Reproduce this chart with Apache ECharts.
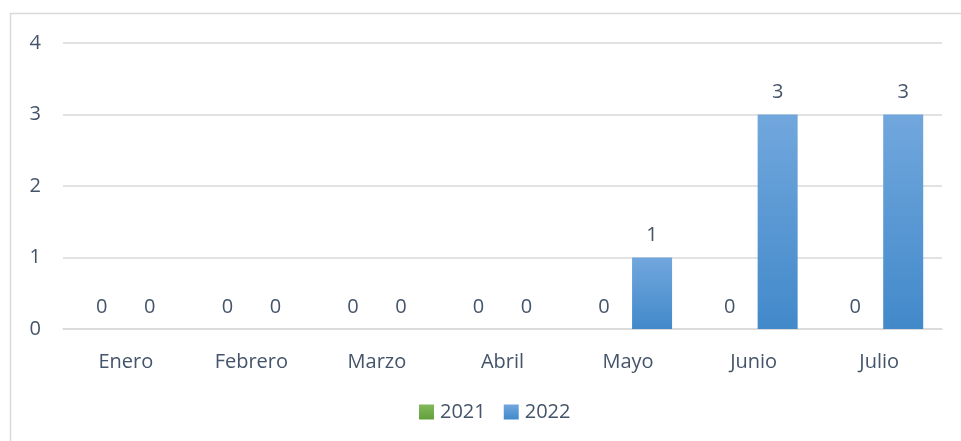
<!DOCTYPE html>
<html>
<head>
<meta charset="utf-8">
<style>
  html, body { margin: 0; padding: 0; background: #fff; }
  #chart { width: 961px; height: 441px; }
</style>
<script src="https://cdn.jsdelivr.net/npm/echarts@6/dist/echarts.min.js"></script>
</head>
<body>
<div id="chart"></div>
<script>
const meses = ["Enero", "Febrero", "Marzo", "Abril", "Mayo", "Junio", "Julio"];
const datos2021 = [0, 0, 0, 0, 0, 0, 0];
const datos2022 = [0, 0, 0, 0, 1, 3, 3];

const textColor = "#44546A";
const font = "'Open Sans', 'Liberation Sans', sans-serif";
const fs = 20;

const grad = (top, bottom) =>
  new echarts.graphic.LinearGradient(0, 0, 0, 1, [
    { offset: 0, color: top },
    { offset: 1, color: bottom }
  ]);

const label = {
  show: true,
  position: "top",
  distance: 12,
  color: textColor,
  fontSize: fs,
  fontFamily: font
};

const chart = echarts.init(document.getElementById("chart"));
chart.setOption({
  animation: false,
  graphic: [
    {
      type: "rect",
      shape: { x: 10.5, y: 13.5, width: 1000, height: 1000 },
      style: { fill: "none", stroke: "#D9D9D9", lineWidth: 1.5 },
      silent: true
    }
  ],
  grid: { left: 63, right: 19, top: 43, bottom: 112, containLabel: false },
  legend: {
    bottom: 14,
    left: 414,
    itemWidth: 15,
    itemHeight: 15,
    itemGap: 18,
    icon: "rect",
    textStyle: { color: textColor, fontSize: fs, fontFamily: font, padding: [0, 0, 0, 1] },
    data: ["2021", "2022"]
  },
  xAxis: {
    type: "category",
    data: meses,
    axisLine: { lineStyle: { color: "#D9D9D9", width: 1.5 } },
    axisTick: { show: false },
    axisLabel: { color: textColor, fontSize: fs, fontFamily: font, margin: 23 }
  },
  yAxis: {
    type: "value",
    min: 0,
    max: 4,
    interval: 1,
    axisLine: { show: false },
    axisTick: { show: false },
    splitLine: { lineStyle: { color: "#D9D9D9", width: 1.5 } },
    axisLabel: { color: textColor, fontSize: fs, fontFamily: font, margin: 22 }
  },
  series: [
    {
      name: "2021",
      type: "bar",
      data: datos2021,
      barWidth: 40,
      barGap: "20%",
      itemStyle: { color: grad("#81B95B", "#62A03A") },
      label: label
    },
    {
      name: "2022",
      type: "bar",
      data: datos2022,
      barWidth: 40,
      itemStyle: { color: grad("#71A7DD", "#4289CA") },
      label: label
    }
  ]
});
</script>
</body>
</html>
